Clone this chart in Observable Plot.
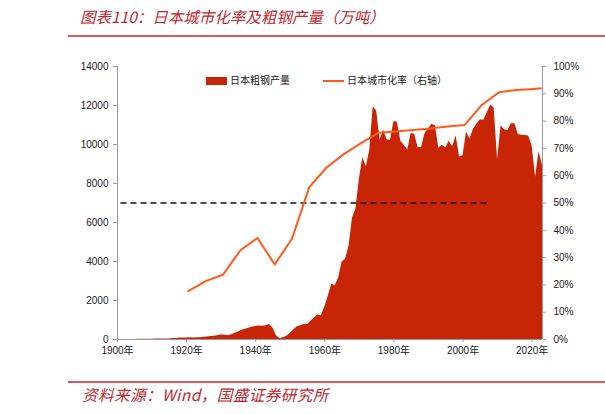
<!DOCTYPE html>
<html>
<head>
<meta charset="utf-8">
<script src="https://cdn.jsdelivr.net/npm/d3@7"></script>
<script src="https://cdn.jsdelivr.net/npm/@observablehq/plot@0.6"></script>
<style>
  body { margin:0; width:605px; height:414px; position:relative; background:#fff; overflow:hidden; }
  .cjk { font-family: "Noto Sans CJK SC", sans-serif; }
  .abs { position:absolute; }
</style>
</head>
<body>
<div class="abs cjk" style="left:80px;top:9px;font-size:15.5px;line-height:1;font-style:italic;color:#C0272D;white-space:nowrap">图表110：日本城市化率及粗钢产量（万吨）</div>
<div class="abs" style="left:68px;right:0;top:35px;height:1.5px;background:#D65A5A"></div>
<div id="chart" class="abs" style="left:0;top:38px"></div>
<div class="abs" style="left:206px;top:77px;width:21px;height:8px;background:#C82506"></div>
<div class="abs cjk" style="left:230px;top:75px;font-size:10px;line-height:1;color:#222;white-space:nowrap">日本粗钢产量</div>
<div class="abs" style="left:323px;top:80px;width:21px;height:2px;background:#FF5A1A"></div>
<div class="abs cjk" style="left:347px;top:75px;font-size:10px;line-height:1;color:#222;white-space:nowrap">日本城市化率（右轴）</div>
<div class="abs" style="left:68px;right:0;top:381px;height:1.5px;background:#D65A5A"></div>
<div class="abs cjk" style="left:82px;top:387px;font-size:15.6px;line-height:1;font-style:italic;color:#C0272D;white-space:nowrap;letter-spacing:0.4px">资料来源：Wind，国盛证券研究所</div>
<script>
// Japan crude steel output (10k tonnes), by year
const steelYears = [1899,1900,1901,1902,1903,1904,1905,1906,1907,1908,1909,1910,1911,1912,1913,1914,1915,1916,1917,1918,1919,
  1920,1921,1922,1923,1924,1925,1926,1927,1928,1929,1930,1931,1932,1933,1934,1935,1936,1937,1938,1939,
  1940,1941,1942,1943,1944,1945,1946,1947,1948,1949,1950,1951,1952,1953,1954,1955,1956,1957,1958,1959,
  1960,1961,1962,1963,1964,1965,1966,1967,1968,1969,1970,1971,1972,1973,1974,1975,1976,1977,1978,1979,
  1980,1981,1982,1983,1984,1985,1986,1987,1988,1989,1990,1991,1992,1993,1994,1995,1996,1997,1998,1999,
  2000,2001,2002,2003,2004,2005,2006,2007,2008,2009,2010,2011,2012,2013,2014,2015,2016,2017,2018,2019,
  2020,2021,2022];
const steelValues = [0,1,1,2,3,6,10,7,10,12,15,25,30,30,26,28,52,57,77,81,80,
  85,83,90,96,110,130,150,169,191,230,229,188,240,320,384,470,522,580,647,670,
  686,684,704,765,591,196,56,95,172,311,484,650,699,766,775,941,1111,1257,1212,1663,
  2214,2827,2755,3150,3980,4116,4778,6215,6689,8217,9332,8856,9690,11932,11713,10231,10740,10240,10211,11175,
  11140,10168,9955,9718,10564,10528,9828,9851,10568,10791,11034,10965,9813,9962,9829,10164,9880,10454,9355,9419,
  10644,10286,10774,11051,11272,11247,11622,12020,11873,9200,10960,10760,10723,11060,11067,10515,10478,10466,10432,9928,
  8319,9634,8923];

// Japan urbanization rate (%), right axis
const urbanYears = [1920,1925,1930,1935,1940,1945,1950,1955,1960,1965,1970,1975,1980,1985,1990,1995,2000,2005,2010,2015,2020,2022];
const urbanRates = [17.7,21.4,23.7,32.6,37.2,27.5,36.9,55.8,63.0,67.9,71.9,75.7,76.2,76.7,77.3,78.0,78.6,86.0,90.6,91.4,91.8,92.0];

// Reference dashed line: 50% urbanization
const refLevel = 50;
const refFrom = 1901;
const refTo = 2007;

const xDomain = [1900, 2023];
const xTicks = [1900,1920,1940,1960,1980,2000,2020];
const leftTicks = [0,2000,4000,6000,8000,10000,12000,14000];
const rightTicks = [0,10,20,30,40,50,60,70,80,90,100];
const leftMax = 14000;
const k = leftMax / 100; // % -> left scale units

const steel = steelYears.map((y, i) => ({year: y, value: steelValues[i]}));
const urban = urbanYears.map((y, i) => ({year: y, rate: urbanRates[i]}));

const chart = Plot.plot({
  width: 605,
  height: 343,
  marginLeft: 117,
  marginRight: 63,
  marginTop: 28,
  marginBottom: 42,
  style: {fontFamily: "'Liberation Sans', 'Noto Sans CJK SC', sans-serif", fontSize: "10px", color: "#222", background: "transparent"},
  x: {domain: xDomain},
  y: {domain: [0, leftMax]},
  marks: [
    Plot.areaY(steel, {x: d => d.year + 1, y: "value", fill: "#C82506"}),
    Plot.ruleY([0], {stroke: "#9a9a9a"}),
    Plot.ruleX(xDomain, {stroke: "#9a9a9a"}),
    Plot.axisX({ticks: xTicks, tickFormat: d => d + "年", tickSize: 3, tickPadding: 4, label: null, stroke: "#9a9a9a", fill: "#222"}),
    Plot.axisY({anchor: "left", ticks: leftTicks, tickFormat: d3.format("d"), tickSize: 4, tickPadding: 5, label: null, stroke: "#9a9a9a", fill: "#222"}),
    Plot.axisY({anchor: "right", ticks: rightTicks.map(p => p * k), tickFormat: d => Math.round(d / k) + "%", tickSize: 3, tickPadding: 8, label: null, stroke: "#9a9a9a", fill: "#222"}),
    Plot.ruleY([refLevel], {y: d => d * k, x1: refFrom, x2: refTo, stroke: "#111", strokeWidth: 1.6, strokeDasharray: "6,4"}),
    Plot.line(urban, {x: d => d.year + 0.5, y: d => d.rate * k, stroke: "#FF5A1A", strokeWidth: 2})
  ]
});
document.getElementById("chart").appendChild(chart);
</script>
</body>
</html>
